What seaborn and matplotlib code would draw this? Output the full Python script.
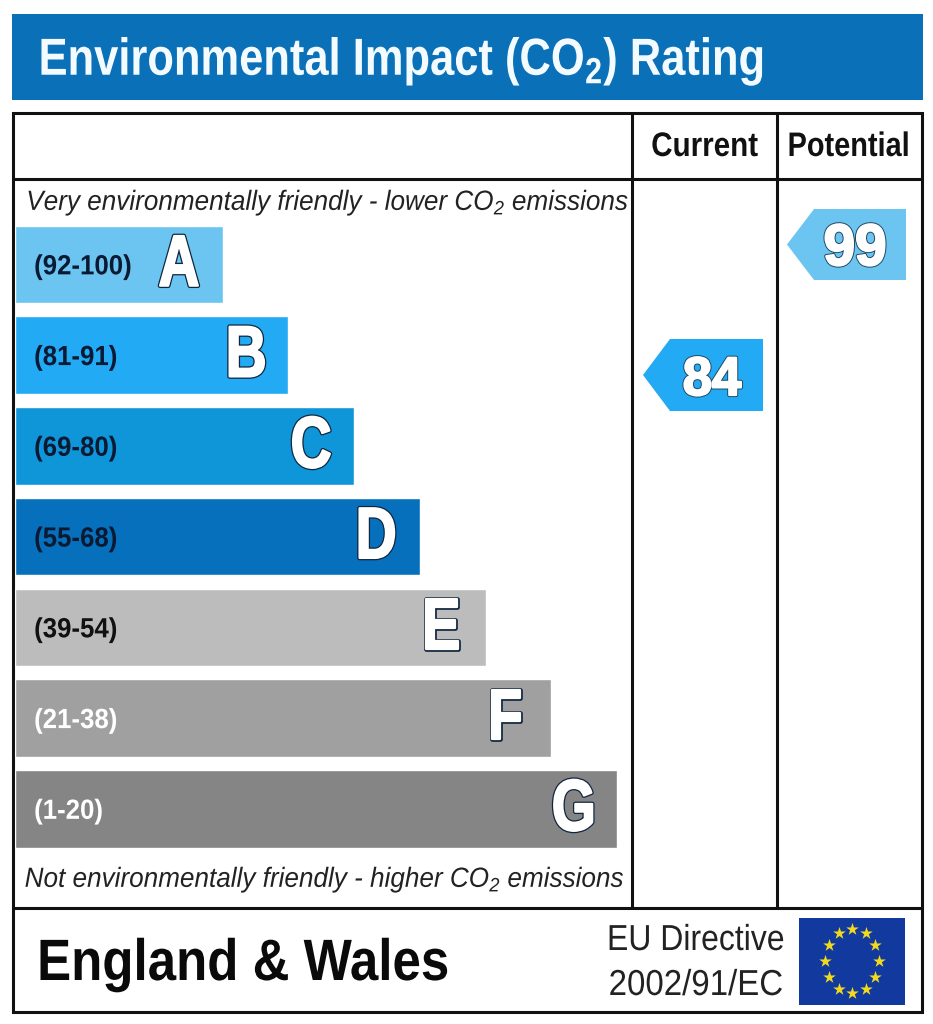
import numpy as np
import pandas as pd
import matplotlib
matplotlib.use('Agg')
import matplotlib.pyplot as plt
import matplotlib.patheffects as pe
from matplotlib.patches import Polygon, Rectangle
from matplotlib.transforms import Affine2D
import seaborn as sns

# Chart values
bands = ['A', 'B', 'C', 'D', 'E', 'F', 'G']
ranges = ['(92-100)', '(81-91)', '(69-80)', '(55-68)', '(39-54)', '(21-38)', '(1-20)']
bar_length = [208, 273, 339, 405, 471, 536, 602]
band_colors = ['#6cc5f1', '#22aaf5', '#0f96d9', '#0770bd', '#bcbcbc', '#a0a0a0', '#858585']
range_colors = ['#0b1a33', '#0b1a33', '#0b1a33', '#0b1a33', '#111111', '#ffffff', '#ffffff']
letter_inset = [44, 42, 43, 44, 45, 46, 43]
current = 84
potential = 99

W, H = 933, 1024
BLUE = '#0a70b8'
LINE = '#111111'


# the lettering in the reference is squashed sideways, so narrow the glyphs when drawn
class Squeeze(pe.AbstractPathEffect):
    def __init__(self, sx, pivot='center', stroke=None, lw=0, fatten=0):
        super().__init__()
        self.sx, self.pivot, self.stroke, self.lw, self.fatten = sx, pivot, stroke, lw, fatten

    def _pass(self, renderer, gc, tpath, trans, rgbFace, color, lw):
        gc0 = renderer.new_gc()
        gc0.copy_properties(gc)
        gc0.set_linewidth(lw)
        gc0.set_foreground(color)
        renderer.draw_path(gc0, tpath, trans, rgbFace)
        gc0.restore()

    def draw_path(self, renderer, gc, tpath, affine, rgbFace=None):
        ext = tpath.get_extents()
        x0 = ext.x0 if self.pivot == 'left' else (ext.x0 + ext.x1) / 2
        squeezed = Affine2D().translate(-x0, 0).scale(self.sx, 1).translate(x0, 0) + affine
        if self.stroke:
            self._pass(renderer, gc, tpath, squeezed, rgbFace, self.stroke, self.lw)
            # white pass on top keeps the outline thin while the letter gets fatter
            self._pass(renderer, gc, tpath, squeezed, rgbFace, rgbFace, self.fatten)
        else:
            renderer.draw_path(gc, tpath, squeezed, rgbFace)


sns.set_theme(style='white')
plt.rcParams['font.family'] = 'Liberation Sans'
plt.rcParams['axes.unicode_minus'] = False

fig = plt.figure(figsize=(W / 100, H / 100), dpi=100, facecolor='white')

# pixel canvas for the frame and labels
bg = fig.add_axes([0, 0, 1, 1])
bg.set_xlim(0, W)
bg.set_ylim(H, 0)
bg.axis('off')

# header
bg.add_patch(Rectangle((12, 14), 911, 86, color=BLUE, lw=0))
bg.text(38, 75, r'Environmental Impact (CO$_{\mathregular{2}}$) Rating', color='#f4fbff', fontsize=37.5,
        weight='bold', ha='left', va='baseline', path_effects=[Squeeze(0.835, pivot='left')])

# frame
bg.add_patch(Rectangle((12.5, 113), 909.5, 899, fill=False, ec=LINE, lw=2.2))
for y in [178.5, 908]:
    bg.plot([12, 922], [y, y], color=LINE, lw=2.2, solid_capstyle='butt')
for x in [632, 777]:
    bg.plot([x, x], [113, 908], color=LINE, lw=2.2, solid_capstyle='butt')

bg.text(704.5, 156, 'Current', ha='center', va='baseline', fontsize=24.5, weight='bold', color='#111111',
        path_effects=[Squeeze(0.87)])
bg.text(848.5, 156, 'Potential', ha='center', va='baseline', fontsize=24.5, weight='bold', color='#111111',
        path_effects=[Squeeze(0.85)])

# bars
ax = fig.add_axes([15 / W, 1 - 847.5 / H, 602 / W, 621.8 / H])
df = pd.DataFrame({'band': bands, 'length': bar_length})
sns.barplot(data=df, y='band', x='length', hue='band', palette=band_colors,
            dodge=False, legend=False, width=0.852, saturation=1, ax=ax)
ax.set_xlim(0, 602)
ax.set_ylim(6.426, -0.426)
ax.axis('off')
ax.patch.set_alpha(0)

for i, (band, rng, length) in enumerate(zip(bands, ranges, bar_length)):
    ax.text(19, i + 0.11, rng, va='baseline', fontsize=20, weight='bold', color=range_colors[i],
            path_effects=[Squeeze(0.93, pivot='left')])
    ax.text(length - letter_inset[i], i + 0.235, band, ha='center', va='baseline', fontsize=52, weight='bold',
            color='white', path_effects=[Squeeze(0.78, stroke='#10263f', lw=3.4, fatten=1.6)])

# captions
caption_fx = [Squeeze(0.94)]
bg.text(327.5, 210, r'Very environmentally friendly - lower CO$_{\mathregular{2}}$ emissions', fontsize=20,
        style='italic', ha='center', va='baseline', color='#222222', path_effects=caption_fx)
bg.text(324.5, 887, r'Not environmentally friendly - higher CO$_{\mathregular{2}}$ emissions', fontsize=20,
        style='italic', ha='center', va='baseline', color='#222222', path_effects=caption_fx)


# rating arrows
def arrow(value, color, tip, shoulder, right, top, bottom, text_x, baseline, size):
    mid = (top + bottom) / 2
    bg.add_patch(Polygon([(tip, mid), (shoulder, top), (right, top), (right, bottom), (shoulder, bottom)],
                         closed=True, color=color, lw=0))
    bg.text(text_x, baseline, str(value), ha='center', va='baseline', fontsize=size, weight='bold', color='white',
            path_effects=[Squeeze(0.97, stroke='#1c4a66', lw=3.0, fatten=1.6)])


arrow(current, band_colors[1], 643, 670, 763, 339, 411, 712, 395, 39)
arrow(potential, band_colors[0], 787, 814, 906, 209, 280, 855, 265, 42)

# footer
bg.text(243.5, 980, 'England & Wales', fontsize=42, weight='bold', ha='center', va='baseline', color='#0a0a0a',
        path_effects=[Squeeze(0.875)])
bg.text(695.5, 950, 'EU Directive', fontsize=26, ha='center', va='baseline', color='#222222',
        path_effects=[Squeeze(0.885)])
bg.text(696, 995, '2002/91/EC', fontsize=26, ha='center', va='baseline', color='#222222',
        path_effects=[Squeeze(0.915)])

# EU flag
bg.add_patch(Rectangle((799, 918), 106, 87, color='#12399e', lw=0))
angles = np.deg2rad(np.arange(0, 360, 30))
bg.scatter(852 + 27 * np.cos(angles), 961 + 32 * np.sin(angles), marker='*', s=90, color='#f2d91e', lw=0)

fig.savefig('out.png', dpi=100)
